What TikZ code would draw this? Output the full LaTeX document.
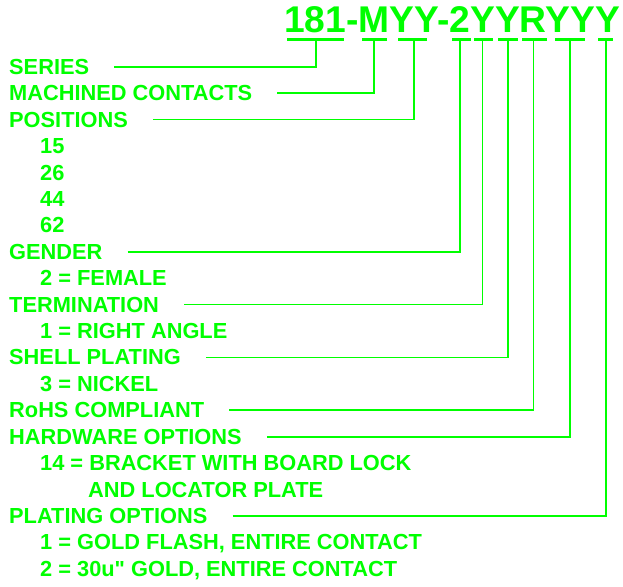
\documentclass[tikz,border=0pt]{standalone}
\usepackage{fontspec}
\newfontfamily\partfont{Liberation Sans}
\usetikzlibrary{positioning}
\definecolor{partGreen}{RGB}{0,255,0}
\tikzset{
  partCode/.style={anchor=base west, inner sep=0pt, text=partGreen, font=\partfont\bfseries\fontsize{37.2}{40}\selectfont},
  partLabel/.style={anchor=base west, inner sep=0pt, text=partGreen, font=\partfont\bfseries\fontsize{21.8}{26}\selectfont},
  partUnderline/.style={draw=partGreen, line width=3pt},
  partLeader/.style={draw=partGreen, line width=1.8pt}
}

\begin{document}
\begin{tikzpicture}[x=1pt, y=-1pt]
      \useasboundingbox (0,0) rectangle (623,586);
      \node[partCode] (partNumber) at (284,33) {181-MYY-2YYRYYY};

      \draw[partUnderline] (287,39.5) -- (344,39.5);
      \draw[partUnderline] (362,39.5) -- (387,39.5);
      \draw[partUnderline] (398,39.5) -- (427,39.5);
      \draw[partUnderline] (452,39.5) -- (471,39.5);
      \draw[partUnderline] (474,39.5) -- (493,39.5);
      \draw[partUnderline] (498,39.5) -- (518,39.5);
      \draw[partUnderline] (522,39.5) -- (547,39.5);
      \draw[partUnderline] (555,39.5) -- (585,39.5);
      \draw[partUnderline] (598,39.5) -- (613,39.5);

      \coordinate (tickSeries) at (316,40);
      \coordinate (tickMachined) at (374,40);
      \coordinate (tickPositions) at (414,40);
      \coordinate (tickGender) at (460,40);
      \coordinate (tickTermination) at (482.5,40);
      \coordinate (tickShell) at (508,40);
      \coordinate (tickRohs) at (533.5,40);
      \coordinate (tickHardware) at (570,40);
      \coordinate (tickPlating) at (606,40);

      \node[partLabel] (series) at (9,74.3) {SERIES};
      \node[partLabel] (machined) at (9,100.7) {MACHINED CONTACTS};
      \node[partLabel] (positions) at (9,127.1) {POSITIONS};
      \node[partLabel] (pos15) at (40,153.6) {15};
      \node[partLabel] (pos26) at (40,180.0) {26};
      \node[partLabel] (pos44) at (40,206.4) {44};
      \node[partLabel] (pos62) at (40,232.8) {62};
      \node[partLabel] (gender) at (9,259.2) {GENDER};
      \node[partLabel] (female) at (40,285.7) {2 = FEMALE};
      \node[partLabel] (termination) at (9,312.1) {TERMINATION};
      \node[partLabel] (rightAngle) at (40,338.5) {1 = RIGHT ANGLE};
      \node[partLabel] (shellPlating) at (9,364.9) {SHELL PLATING};
      \node[partLabel] (nickel) at (40,391.3) {3 = NICKEL};
      \node[partLabel] (rohs) at (9,417.8) {RoHS COMPLIANT};
      \node[partLabel] (hardware) at (9,444.2) {HARDWARE OPTIONS};
      \node[partLabel] (bracket) at (40,470.6) {14 = BRACKET WITH BOARD LOCK};
      \node[partLabel] (locator) at (88,497.0) {AND LOCATOR PLATE};
      \node[partLabel] (plating) at (9,523.4) {PLATING OPTIONS};
      \node[partLabel] (goldFlash) at (40,549.9) {1 = GOLD FLASH, ENTIRE CONTACT};
      \node[partLabel] (goldThirty) at (40,576.3) {2 = 30u" GOLD, ENTIRE CONTACT};

      \draw[partLeader] ([xshift=25pt]series.east) -| (tickSeries);
      \draw[partLeader] ([xshift=25pt]machined.east) -| (tickMachined);
      \draw[partLeader] ([xshift=25pt]positions.east) -| (tickPositions);
      \draw[partLeader] ([xshift=25pt]gender.east) -| (tickGender);
      \draw[partLeader] ([xshift=25pt]termination.east) -| (tickTermination);
      \draw[partLeader] ([xshift=25pt]shellPlating.east) -| (tickShell);
      \draw[partLeader] ([xshift=25pt]rohs.east) -| (tickRohs);
      \draw[partLeader] ([xshift=25pt]hardware.east) -| (tickHardware);
      \draw[partLeader] ([xshift=25pt]plating.east) -| (tickPlating);
    \end{tikzpicture}
\end{document}
